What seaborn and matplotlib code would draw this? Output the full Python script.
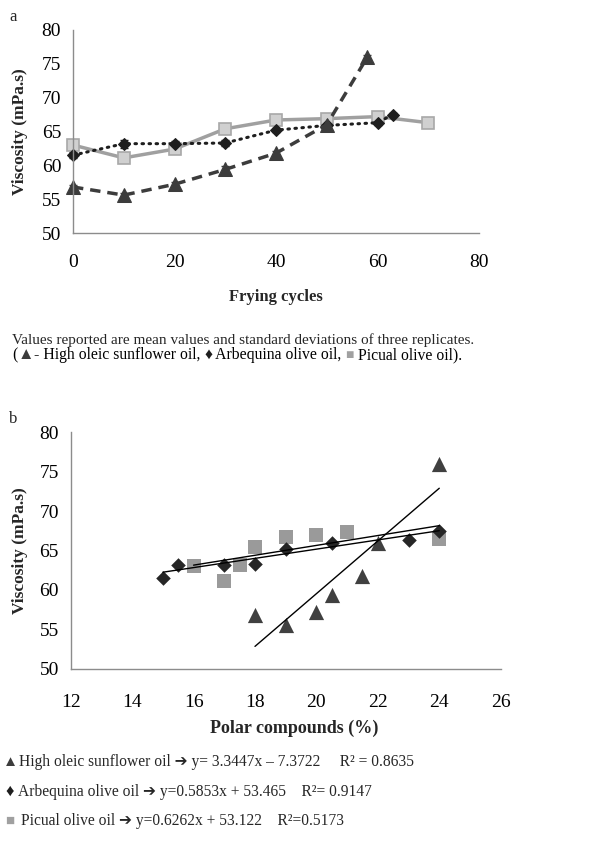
import numpy as np
import seaborn as sns
import matplotlib.pyplot as plt
from matplotlib.offsetbox import TextArea, HPacker, AnnotationBbox

sns.set_style("white")
plt.rcParams['font.family'] = ['Liberation Serif', 'DejaVu Sans']

# ---- panel a: viscosity vs frying cycles ----
hos_cycles = [0, 10, 20, 30, 40, 50, 58]
hos_visc = [56.8, 55.6, 57.2, 59.4, 61.8, 66.0, 76.0]
hos_sd = [0.3, 0.3, 0.3, 0.5, 0.3, 0.4, 0.3]

arb_cycles = [0, 10, 20, 30, 40, 50, 60, 63]
arb_visc = [61.5, 63.2, 63.2, 63.3, 65.2, 65.9, 66.3, 67.5]
arb_sd = [0.4, 0.6, 0.4, 0.4, 0.3, 0.3, 0.3, 0.3]

pic_cycles = [0, 10, 20, 30, 40, 50, 60, 70]
pic_visc = [63.0, 61.1, 62.4, 65.4, 66.7, 66.9, 67.2, 66.3]
pic_sd = [0.5, 0.4, 0.5, 0.6, 0.4, 0.3, 0.4, 0.4]

# ---- panel b: viscosity vs polar compounds ----
hos_polar = [18, 19, 20, 20.5, 21.5, 22, 24]
arb_polar = [15, 15.5, 17, 18, 19, 20.5, 23, 24]
pic_polar = [16, 17, 17.5, 18, 19, 20, 21, 24]
pic_visc_b = [63.0, 61.1, 63.2, 65.4, 66.7, 67.0, 67.3, 66.4]

# trend lines (slope, intercept) as reported
hos_fit = (3.3447, -7.3722)
arb_fit = (0.5853, 53.465)
pic_fit = (0.6262, 53.122)

c_hos = '#3c3c3c'
c_arb = '#1e1e1e'
c_pic = '#a0a0a0'
c_axis = '#8c8c8c'

W, H = 603, 847
fig = plt.figure(figsize=(W / 100, H / 100), dpi=100)


def px(x, y):
    return x / W, 1 - y / H


def style_axes(ax):
    for s in ['top', 'right']:
        ax.spines[s].set_visible(False)
    for s in ['left', 'bottom']:
        ax.spines[s].set_color(c_axis)
        ax.spines[s].set_linewidth(1.0)
    ax.tick_params(axis='both', colors=c_axis, labelcolor='black',
                   labelsize=14, length=5, width=1, direction='out')
    ax.grid(False)
    for art in ax.lines + ax.collections:
        art.set_clip_on(False)


# panel a
ax1 = fig.add_axes([73 / W, 1 - 233 / H, 406 / W, 203 / H])
ax1.errorbar(hos_cycles, hos_visc, yerr=hos_sd, fmt='none',
             ecolor=c_hos, capsize=3, lw=1)
ax1.errorbar(arb_cycles, arb_visc, yerr=arb_sd, fmt='none',
             ecolor=c_arb, capsize=3, lw=1)
ax1.errorbar(pic_cycles, pic_visc, yerr=pic_sd, fmt='none',
             ecolor='#909090', capsize=3, lw=1)
sns.lineplot(x=pic_cycles, y=pic_visc, ax=ax1, color=c_pic, lw=2.5,
             marker='s', markersize=8, markerfacecolor='#d0d0d0',
             markeredgecolor='#a8a8a8', markeredgewidth=1.2)
sns.lineplot(x=arb_cycles, y=arb_visc, ax=ax1, color=c_arb, lw=2.2,
             linestyle=(0, (0.5, 1.8)), dash_capstyle='round',
             marker='D', markersize=6.5, markeredgecolor=c_arb)
sns.lineplot(x=hos_cycles, y=hos_visc, ax=ax1, color=c_hos, lw=2.5,
             linestyle=(0, (3, 2)), marker='^', markersize=10,
             markeredgecolor=c_hos)
ax1.set_xlim(0, 80)
ax1.set_ylim(50, 80)
ax1.set_xticks(np.arange(0, 81, 20))
ax1.set_yticks(np.arange(50, 81, 5))
style_axes(ax1)
ax1.tick_params(axis='x', pad=10)
ax1.set_ylabel('Viscosity (mPa.s)', fontsize=12.5, fontweight='bold')
ax1.yaxis.set_label_coords(-0.13, 0.5)
ax1.yaxis.label.set_va('center')
ax1.set_xlabel('Frying cycles', fontsize=12, fontweight='bold')
ax1.xaxis.set_label_coords(0.5, -0.315)
ax1.xaxis.label.set_va('center')

fig.text(*px(13, 17), 'a', fontsize=12, ha='center', va='center')

# caption between panels
fig.text(*px(12, 340), 'Values reported are mean values and standard '
         'deviations of three replicates.', fontsize=11, va='center')
parts = [('(', 'black', 11.3), ('\u25B2', c_hos, 12), ('- High oleic sunflower oil, ', 'black', 11.3),
         ('\u2666', c_arb, 11.3), (' Arbequina olive oil, ', 'black', 11.3),
         ('\u25A0', c_pic, 10), (' Picual olive oil).', 'black', 11.3)]
boxes = [TextArea(t, textprops=dict(color=c, fontsize=f,
                                    family=['Liberation Serif', 'DejaVu Sans']))
         for t, c, f in parts]
row = HPacker(children=boxes, pad=0, sep=0, align='baseline')
fig.add_artist(AnnotationBbox(row, px(12, 355), xycoords='figure fraction',
                              box_alignment=(0, 0.5), frameon=False, pad=0))

# panel b
ax2 = fig.add_axes([70.7 / W, 1 - 668.7 / H, 430 / W, 236.4 / H])
sns.scatterplot(x=pic_polar, y=pic_visc_b, ax=ax2, color='#9a9a9a',
                marker='s', s=110, linewidth=0)
sns.scatterplot(x=arb_polar, y=arb_visc, ax=ax2, color='#262626',
                marker='D', s=55, linewidth=0)
sns.scatterplot(x=hos_polar, y=hos_visc, ax=ax2, color='#404040',
                marker='^', s=120, linewidth=0)
for xs, (m, b) in [(hos_polar, hos_fit), (arb_polar, arb_fit),
                   (pic_polar, pic_fit)]:
    xx = np.array([min(xs), max(xs)])
    sns.lineplot(x=xx, y=m * xx + b, ax=ax2, color='black', lw=1.0)
ax2.set_xlim(12, 26)
ax2.set_ylim(50, 80)
ax2.set_xticks(np.arange(12, 27, 2))
ax2.set_yticks(np.arange(50, 81, 5))
style_axes(ax2)
ax2.tick_params(axis='x', pad=12, length=6)
ax2.set_ylabel('Viscosity (mPa.s)', fontsize=12.5, fontweight='bold')
ax2.yaxis.set_label_coords(-0.117, 0.5)
ax2.yaxis.label.set_va('center')
ax2.set_xlabel('Polar compounds (%)', fontsize=13, fontweight='bold')
ax2.xaxis.set_label_coords(0.52, -0.251)
ax2.xaxis.label.set_va('center')

fig.text(*px(13, 419), 'b', fontsize=12, ha='center', va='center')

# regression legend below panel b
arrow = '\u2794'
legend_rows = [
    ('\u25B2', c_hos, 11, 3, 762, 19,
     f'High oleic sunflower oil {arrow} y= 3.3447x \u2013 7.3722     R\u00b2 = 0.8635'),
    ('\u2666', c_arb, 12, 5, 792, 18,
     f'Arbequina olive oil {arrow} y=0.5853x + 53.465    R\u00b2= 0.9147'),
    ('\u25A0', c_pic, 11, 5, 821, 21,
     f'Picual olive oil {arrow} y=0.6262x + 53.122    R\u00b2=0.5173'),
]
for sym, col, fs, sx, y, tx, txt in legend_rows:
    fig.text(*px(sx, y), sym, color=col, fontsize=fs, va='center')
    fig.text(*px(tx, y), txt, fontsize=11.2, va='center')

fig.savefig('out.png', dpi=100)
